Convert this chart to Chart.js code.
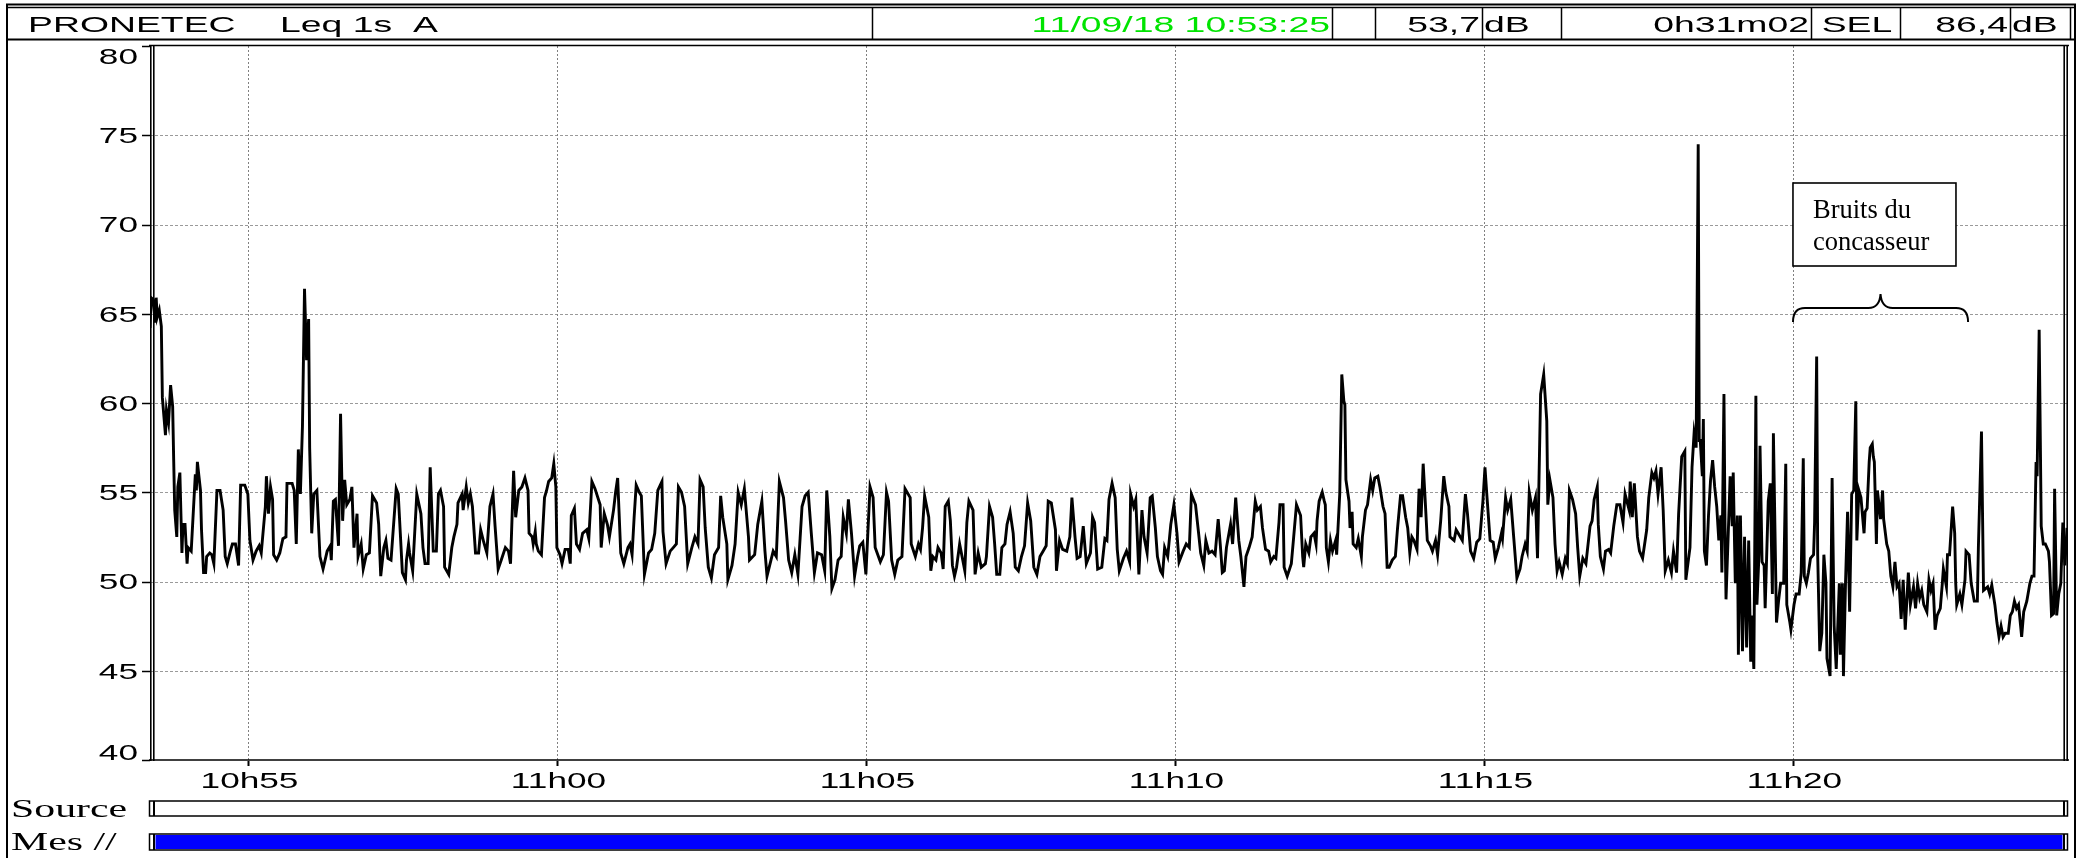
<!DOCTYPE html>
<html><head><meta charset="utf-8">
<script src="https://cdn.jsdelivr.net/npm/chart.js@4.4.1/dist/chart.umd.min.js"></script>
<style>html,body{margin:0;padding:0;background:#fff;overflow:hidden}canvas{display:block}</style>
</head><body>
<canvas id="c" width="2082" height="858" style="width:2082px;height:858px"></canvas>
<script>
// ---- data: [elapsed seconds since 10:53:25, Leq 1s dB(A)] ----
const readings1 = [[0,64.2],[1,65.9],[3,65.8],[5,64.5],[6,65.9],[7,64.8],[9,65.2],[11,64.3],[12,60.3],[15,58.2],[16,59.6],[18,58.9],[20,61.0],[22,59.8],[23,56.8],[24,54.0],[26,52.5],[27,55.3],[29,56.1],[31,51.6],[32,53.2],[34,53.2],[36,51.0],[37,51.9],[40,51.7],[44,56.0],[45,55.1],[46,56.7],[49,55.1],[50,52.9],[52,50.5],[54,50.5],[55,51.4],[58,51.6],[60,51.5],[62,51.0],[65,55.1],[68,55.1],[71,54.0],[73,51.4],[75,51.0],[78,51.7],[80,52.1],[83,52.1],[86,50.9],[88,55.4],[92,55.4],[95,54.9],[97,52.3],[100,51.2],[103,51.7],[106,52.0],[108,51.6],[112,54.2],[113,55.9],[115,53.8],[117,55.3],[119,54.6],[120,51.5],[123,51.2],[126,51.6],[129,52.4],[132,52.5],[133,55.5],[138,55.5],[140,55.1],[142,52.1],[144,57.4],[146,54.9],[148,58.7],[150,66.4],[152,62.4],[154,64.7],[155,57.5],[157,52.7],[159,54.9],[162,55.1],[165,51.4],[168,50.7],[172,51.7],[175,52.0],[176,51.2],[178,54.5],[180,54.6],[183,52.0],[185,59.4],[187,53.4],[189,55.7],[191,54.3],[194,54.6],[196,55.3],[198,51.9],[201,53.8],[202,51.4],[205,52.1],[207,50.7],[210,51.5],[213,51.6],[216,54.8],[220,54.4],[222,53.2],[224,50.3],[227,51.9],[229,52.3],[231,51.3],[234,51.2],[239,55.2],[241,54.9],[243,52.7],[245,50.5],[248,50.1],[249,51.2],[251,52.1],[252,51.6],[255,50.6],[259,54.9],[263,53.8],[265,51.9],[267,51.0],[270,51.0],[272,56.4],[275,51.7],[278,51.7],[280,54.9],[282,55.1],[285,54.2],[286,50.8],[290,50.4],[293,51.9],[295,52.5],[298,53.2],[299,54.4],[303,54.9],[304,54.0],[307,55.3],[309,54.4],[311,54.9],[313,54.2],[316,51.6],[319,51.6],[321,52.9],[324,52.2],[327,51.6],[330,54.2],[333,54.9],[335,53.1],[338,50.7],[341,51.2],[345,51.9],[348,51.7],[350,51.0],[353,56.2],[355,53.6],[358,55.1],[361,55.3],[364,55.8],[367,55.1],[368,52.7],[371,52.5],[372,52.1]];
const readings2 = [[374,52.8],[375,52.1],[377,51.7],[380,51.5],[383,54.7],[385,55.1],[387,55.6],[390,55.8],[392,56.6],[394,55.3],[395,51.9],[398,51.5],[400,51.0],[403,51.8],[406,51.8],[408,51.0],[409,53.7],[412,54.1],[414,52.1],[417,51.8],[420,52.7],[424,52.9],[426,52.4],[429,55.6],[432,55.2],[437,54.3],[438,51.9],[441,53.8],[444,53.2],[446,52.5],[450,54.0],[452,55.0],[454,55.8],[457,51.6],[460,51.0],[464,51.9],[466,52.1],[468,51.5],[470,53.6],[472,55.4],[475,55.0],[477,54.8],[480,50.4],[484,51.6],[487,51.8],[490,52.7],[493,55.1],[497,55.6],[498,52.8],[501,51.0],[505,51.7],[508,51.9],[511,52.1],[513,55.3],[516,55.0],[519,54.2],[522,51.0],[526,51.9],[529,52.5],[532,52.1],[534,55.7],[537,55.3],[539,53.0],[542,50.8],[545,50.2],[548,51.5],[552,51.9],[554,54.8],[556,53.6],[560,52.1],[561,50.1],[565,50.9],[568,52.1],[571,55.0],[574,54.3],[577,55.2],[581,52.5],[582,51.2],[587,51.5],[590,53.2],[594,54.5],[597,51.7],[599,50.3],[602,51.0],[605,51.7],[608,51.4],[611,55.6],[615,54.7],[617,53.4],[620,51.2],[623,50.5],[626,51.5],[629,50.4],[633,54.2],[636,54.8],[639,55.0],[642,52.7],[645,50.5],[648,51.6],[652,51.5],[655,50.6],[657,55.1],[660,52.5],[662,49.6],[665,50.1],[668,51.2],[671,51.4],[673,53.6],[676,52.7],[678,54.6],[681,52.7],[684,50.3],[687,51.4],[689,52.0],[692,52.2],[695,50.4],[699,55.3],[702,54.7],[704,51.9],[709,51.1],[712,51.5],[715,55.0],[717,54.5],[720,51.2],[723,50.4],[726,51.2],[730,51.4],[733,55.2],[738,54.7],[739,52.1],[743,51.4],[746,52.1]];
const readings3 = [[748,51.8],[750,53.0],[752,54.8],[756,53.6],[758,50.6],[760,51.4],[763,51.2],[765,51.9],[768,51.6],[770,50.7],[772,54.2],[775,54.5],[777,53.4],[779,50.9],[781,50.3],[783,50.8],[786,52.1],[789,51.2],[791,50.6],[793,53.3],[795,54.5],[799,54.0],[801,50.4],[804,51.6],[807,50.8],[811,51.0],[812,51.4],[815,54.2],[818,53.6],[820,52.1],[822,50.4],[825,50.4],[827,51.9],[830,52.1],[832,53.2],[835,53.9],[838,52.7],[840,50.8],[843,50.6],[846,51.4],[849,52.0],[852,54.4],[855,53.4],[858,50.8],[861,50.4],[864,51.4],[867,51.7],[870,52.0],[872,54.5],[875,54.4],[879,52.9],[880,50.6],[883,52.3],[886,51.8],[890,51.7],[893,52.5],[895,54.7],[898,52.5],[900,51.3],[903,51.4],[906,53.1],[909,51.0],[913,51.6],[915,53.6],[917,53.3],[920,50.7],[924,50.8],[927,52.4],[929,52.3],[931,54.6],[934,55.5],[937,54.7],[939,51.8],[941,50.6],[945,51.3],[948,51.7],[951,51.1],[952,54.9],[955,54.2],[957,54.6],[960,50.4],[963,54.0],[965,52.5],[968,51.6],[971,54.7],[973,54.8],[976,53.0],[978,51.4],[981,50.6],[983,50.4],[985,51.9],[988,51.4],[991,53.2],[994,54.3],[997,52.7],[999,51.1],[1003,51.7],[1006,52.1],[1009,51.9],[1011,54.9],[1015,54.3],[1018,52.7],[1020,51.6],[1023,50.9],[1025,52.3],[1028,51.6],[1031,51.7],[1034,51.5],[1037,53.5],[1039,52.1],[1041,50.5],[1043,50.6],[1045,51.9],[1049,53.2],[1051,52.1],[1054,54.7],[1057,52.3],[1059,51.4],[1062,49.7],[1064,51.4],[1067,51.9],[1070,52.5],[1073,54.5],[1075,54.0],[1078,54.2],[1080,53.0],[1083,51.8],[1086,51.7],[1088,51.1],[1091,51.4],[1093,51.3],[1096,53.3],[1097,54.3],[1100,54.3],[1101,50.8],[1104,50.3],[1108,51.0],[1110,52.3],[1113,54.3],[1117,53.7],[1119,51.4]];
const readings4 = [[1120,50.8],[1122,52.1],[1125,51.6],[1127,52.5],[1130,52.7],[1132,52.1],[1133,53.4],[1135,54.5],[1138,55.0],[1140,54.5],[1141,54.3],[1142,51.9],[1144,51.1],[1146,52.3],[1148,51.7],[1151,52.3],[1152,51.5],[1155,54.9],[1157,61.6],[1159,60.1],[1160,59.9],[1161,55.7],[1164,54.5],[1165,53.0],[1167,53.9],[1168,52.1],[1171,51.9],[1173,52.4],[1176,51.4],[1177,52.5],[1180,54.0],[1182,54.3],[1185,55.7],[1187,55.1],[1189,55.8],[1192,55.9],[1194,55.3],[1197,54.2],[1199,53.8],[1201,50.8],[1203,50.8],[1206,51.2],[1209,51.4],[1211,52.9],[1214,54.8],[1216,54.8],[1219,53.6],[1221,53.0],[1223,51.6],[1225,52.5],[1227,52.3],[1230,51.8],[1232,55.2],[1234,53.6],[1236,56.6],[1238,54.5],[1240,52.3],[1243,52.0],[1245,51.7],[1248,52.3],[1250,51.5],[1253,53.4],[1256,55.9],[1258,55.0],[1261,54.2],[1262,52.5],[1266,52.3],[1268,52.9],[1270,52.7],[1274,52.3],[1277,54.9],[1279,53.8],[1282,51.7],[1285,51.3],[1288,52.2],[1291,52.4],[1294,54.5],[1296,56.4],[1298,54.7],[1301,52.3],[1304,52.2],[1306,51.3],[1309,51.9],[1312,52.7],[1313,52.4],[1316,54.7],[1318,54.0],[1321,54.6],[1324,52.4],[1327,50.2],[1330,50.7],[1332,51.4],[1335,52.1],[1337,51.7],[1339,55.0],[1342,54.0],[1345,54.7],[1347,51.3],[1350,60.5],[1353,61.6],[1356,59.0],[1357,54.3],[1359,55.7],[1362,54.7],[1364,52.1],[1366,50.6],[1368,51.1],[1371,50.4],[1374,51.3],[1376,51.0],[1378,55.1],[1381,54.6],[1384,53.8],[1386,51.9],[1388,50.3],[1391,51.3],[1394,51.0],[1398,53.1],[1400,53.4],[1402,54.6],[1405,55.3],[1406,53.2],[1408,51.4],[1411,50.7],[1413,51.7],[1416,51.8],[1418,51.6],[1421,53.1],[1424,54.3],[1427,54.3],[1430,53.3],[1432,54.9],[1436,54.0],[1437,55.6],[1439,53.6],[1441,55.5],[1444,52.5],[1446,51.7],[1449,51.3],[1453,52.9],[1455,54.7],[1458,56.1],[1460,55.8],[1462,56.2],[1464,54.9],[1467,56.4],[1469,54.0],[1471,50.6],[1474,51.2],[1477,50.5],[1479,51.7],[1482,50.5],[1484,53.8],[1487,57.0],[1490,57.3],[1491,50.1]];
const readings5 = [[1495,51.9],[1497,56.4],[1499,58.3],[1501,57.5],[1503,74.5],[1504,57.9],[1505,57.9],[1507,55.9],[1508,59.1],[1509,51.7],[1511,50.9],[1513,53.7],[1515,55.7],[1517,56.8],[1519,55.3],[1521,54.2],[1523,52.3],[1525,53.7],[1526,50.5],[1528,60.5],[1529,53.3],[1530,49.0],[1533,54.1],[1534,55.9],[1536,53.1],[1537,56.1],[1539,49.9],[1541,53.7],[1542,45.9],[1544,53.7],[1546,46.1],[1548,52.5],[1550,46.3],[1552,52.3],[1554,45.5],[1555,48.1],[1557,45.1],[1559,60.4],[1560,48.7],[1562,51.5],[1563,57.6],[1565,51.1],[1567,50.9],[1568,48.5],[1571,54.5],[1573,55.5],[1575,49.3],[1576,58.3],[1579,47.7],[1581,48.9],[1583,49.9],[1586,49.9],[1588,56.6],[1589,48.7],[1592,47.7],[1593,47.3],[1596,48.7],[1598,49.3],[1601,49.3],[1603,50.5],[1605,56.9],[1606,50.3],[1608,49.9],[1610,50.5],[1612,51.3],[1615,51.5],[1616,53.3],[1618,62.6],[1619,51.5],[1621,46.1],[1623,47.1],[1625,51.5],[1627,49.9],[1628,45.7],[1631,44.7],[1633,55.8],[1635,47.5],[1637,45.1],[1640,49.9],[1641,45.9],[1643,49.9],[1644,44.7],[1646,49.9],[1648,53.9],[1650,48.3],[1652,54.9],[1654,55.1],[1656,60.1],[1657,52.3],[1659,55.1],[1661,54.7],[1664,52.7],[1665,53.9],[1667,54.1],[1669,56.7],[1670,57.5],[1672,57.7],[1673,57.0],[1674,56.7],[1676,52.1],[1677,55.1],[1680,53.5],[1682,55.1],[1683,53.5],[1686,52.1],[1688,51.7],[1690,50.3],[1692,49.7],[1694,51.1],[1696,49.7],[1698,49.9],[1700,47.9],[1702,50.1],[1704,47.3],[1707,50.5],[1709,48.7],[1712,49.7],[1714,48.5],[1716,49.9],[1718,49.1],[1720,49.5],[1722,48.7],[1725,48.3],[1727,50.1],[1729,49.5],[1731,49.9],[1733,47.3],[1735,48.1],[1738,48.5],[1740,49.9],[1741,50.7],[1744,49.7],[1745,51.5],[1747,51.5],[1750,54.2],[1752,52.7],[1753,49.9],[1754,48.7],[1757,49.3],[1759,48.7],[1762,50.1],[1763,51.7],[1766,51.5],[1768,49.9],[1771,48.9],[1774,48.9],[1775,51.9],[1778,58.4],[1780,49.5],[1784,49.7],[1786,49.3],[1788,49.8],[1791,48.7],[1793,47.7],[1795,46.9],[1797,47.5],[1799,46.9],[1801,47.1],[1804,47.1],[1806,48.1],[1808,48.3],[1810,48.9],[1812,48.5],[1814,48.7],[1817,46.9],[1819,48.3],[1822,48.9],[1825,49.9],[1827,50.3],[1829,50.3],[1831,56.7],[1832,55.9],[1834,64.1],[1836,53.1],[1838,52.1],[1840,52.1],[1843,51.7],[1844,51.1],[1846,48.1],[1848,48.2],[1849,55.2],[1851,48.1],[1853,49.3],[1855,49.9],[1857,53.3],[1859,50.9],[1861,53.0]];

const totalSeconds = 1862;                 // 0h31m02
const timeTickSeconds = [95, 395, 695, 995, 1295, 1595];
const timeTickLabels = ['10h55', '11h00', '11h05', '11h10', '11h15', '11h20'];
const levelTicks = [40, 45, 50, 55, 60, 65, 70, 75, 80];
const headerTitle = 'PRONETEC';
const headerMode = 'Leq 1s  A';
const headerStart = '11/09/18 10:53:25';
const headerLeq = '53,7';
const headerDuration = '0h31m02';
const headerSel = '86,4';
const stripLabels = ['Source', 'Mes //'];
const annotationLines = ['Bruits du', 'concasseur'];
const annotationSpanSeconds = [1595, 1765];

const allReadings = readings1.concat(readings2, readings3, readings4, readings5);
const points = allReadings.map(r => ({x: r[0], y: r[1]}));

const SX = 1.66;
function sText(ctx, text, x, y, font, sx, align, color) {
  ctx.save();
  ctx.font = font;
  ctx.fillStyle = color || '#000';
  ctx.textBaseline = 'alphabetic';
  ctx.textAlign = 'left';
  const w = ctx.measureText(text).width * sx;
  const x0 = align === 'right' ? x - w : (align === 'center' ? x - w / 2 : x);
  ctx.translate(x0, y);
  ctx.scale(sx, 1);
  ctx.fillText(text, 0, 0);
  ctx.restore();
}
function seg(ctx, x1, y1, x2, y2) { ctx.beginPath(); ctx.moveTo(x1, y1); ctx.lineTo(x2, y2); ctx.stroke(); }

const overlay = {
  id: 'overlay',
  beforeDraw(chart) {
    const ctx = chart.ctx, xs = chart.scales.x, ys = chart.scales.y, a = chart.chartArea;
    ctx.save();
    ctx.fillStyle = '#fff';
    ctx.fillRect(0, 0, chart.width, chart.height);
    ctx.strokeStyle = '#9a9a9a';
    ctx.lineWidth = 1;
    ctx.setLineDash([3, 2]);
    levelTicks.forEach(v => {
      if (v <= ys.min || v >= ys.max) return;
      const y = Math.round(ys.getPixelForValue(v)) + 0.5;
      seg(ctx, a.left, y, a.right, y);
    });
    ctx.strokeStyle = '#808080';
    ctx.setLineDash([2, 2]);
    timeTickSeconds.forEach(s => {
      const x = Math.round(xs.getPixelForValue(s)) + 0.5;
      seg(ctx, x, a.top, x, a.bottom);
    });
    ctx.restore();
  },
  afterDraw(chart) {
    const ctx = chart.ctx, xs = chart.scales.x, ys = chart.scales.y, a = chart.chartArea;
    const W = chart.width, H = chart.height;
    ctx.save();
    ctx.setLineDash([]);
    ctx.strokeStyle = '#000';

    // outer frame
    ctx.lineWidth = 2;
    seg(ctx, 7, 4, 7, H);
    seg(ctx, 2075, 4, 2075, H);
    seg(ctx, 6, 4.5, 2076, 4.5);
    ctx.lineWidth = 1.5;
    seg(ctx, 6, 7.5, 2076, 7.5);
    ctx.lineWidth = 2;
    seg(ctx, 6, 39.5, 2076, 39.5);
    // header boxes
    ctx.lineWidth = 1.5;
    [872, 1332, 1375, 1482, 1561, 1811, 1900, 2010, 2070].forEach(x => seg(ctx, x + 0.5, 7, x + 0.5, 39));

    const hf = '22.5px "Liberation Sans", Arial, sans-serif';
    sText(ctx, headerTitle, 28, 32, hf, SX, 'left');
    sText(ctx, headerMode, 280, 32, hf, SX, 'left');
    sText(ctx, headerStart, 1330, 32, hf, SX, 'right', '#00e400');
    sText(ctx, headerLeq, 1480, 32, hf, SX, 'right');
    sText(ctx, 'dB', 1484, 32, hf, SX, 'left');
    sText(ctx, headerDuration, 1809, 32, hf, SX, 'right');
    sText(ctx, 'SEL', 1857, 32, hf, SX, 'center');
    sText(ctx, headerSel, 2008, 32, hf, SX, 'right');
    sText(ctx, 'dB', 2012, 32, hf, SX, 'left');

    // plot frame
    ctx.lineWidth = 1.6;
    seg(ctx, a.left - 1, a.top - 0.5, a.right + 1, a.top - 0.5);
    seg(ctx, a.left - 1, a.bottom, a.right + 1, a.bottom);
    seg(ctx, a.left + 0.8, a.top - 1, a.left + 0.8, a.bottom + 1);
    seg(ctx, a.left + 3.8, a.top - 1, a.left + 3.8, a.bottom + 1);
    seg(ctx, a.right - 3.8, a.top - 1, a.right - 3.8, a.bottom + 1);
    seg(ctx, a.right - 0.8, a.top - 1, a.right - 0.8, a.bottom + 1);

    // y ticks + labels
    const lf = '22px "Liberation Sans", Arial, sans-serif';
    ctx.lineWidth = 1.5;
    levelTicks.forEach(v => {
      const y = ys.getPixelForValue(v);
      seg(ctx, a.left - 8, Math.round(y) + 0.5, a.left, Math.round(y) + 0.5);
      let base = y + 7.8;
      if (base - 15.8 < a.top + 2) base = a.top + 17.5;
      if (base > a.bottom) base = a.bottom;
      sText(ctx, String(v), a.left - 12, base, lf, 1.6, 'right');
    });
    // x ticks + labels
    ctx.lineWidth = 2;
    timeTickSeconds.forEach((s, i) => {
      const x = Math.round(xs.getPixelForValue(s)) + 0.5;
      seg(ctx, x, a.bottom + 1, x, a.bottom + 6);
      sText(ctx, timeTickLabels[i], x + 1, 788, lf, 1.6, 'center');
    });

    // Source / Mes strips
    const x1 = a.left - 1, x2 = a.right;
    ctx.fillStyle = '#fff';
    ctx.fillRect(x1, 801, x2 - x1, 15);
    ctx.lineWidth = 1.5;
    ctx.strokeRect(x1 + 0.5, 801, x2 - x1 - 1, 15);
    ctx.lineWidth = 2;
    seg(ctx, a.left + 4, 801, a.left + 4, 816);
    seg(ctx, a.right - 4, 801, a.right - 4, 816);

    ctx.fillStyle = '#fff';
    ctx.fillRect(x1, 834, x2 - x1, 16);
    ctx.fillStyle = '#0000ff';
    ctx.fillRect(a.left + 5.5, 835, a.right - a.left - 11, 14);
    ctx.lineWidth = 1.5;
    ctx.strokeRect(x1 + 0.5, 834, x2 - x1 - 1, 16);
    ctx.lineWidth = 2;
    seg(ctx, a.left + 4, 834, a.left + 4, 850);
    seg(ctx, a.right - 4, 834, a.right - 4, 850);

    const sf = '25.5px "Liberation Serif", "Times New Roman", serif';
    sText(ctx, stripLabels[0], 11, 817, sf, 1.64, 'left');
    sText(ctx, stripLabels[1], 11, 850, sf, 1.64, 'left');

    // annotation
    const bx = xs.getPixelForValue(annotationSpanSeconds[0]);
    const bxEnd = xs.getPixelForValue(annotationSpanSeconds[1]);
    const boxTop = 183, boxH = 83, boxW = 163;
    ctx.fillStyle = '#fff';
    ctx.fillRect(bx, boxTop, boxW, boxH);
    ctx.lineWidth = 1.6;
    ctx.strokeRect(bx, boxTop, boxW, boxH);
    ctx.fillStyle = '#000';
    ctx.font = '26.5px "Liberation Serif", "Times New Roman", serif';
    ctx.textAlign = 'left';
    ctx.textBaseline = 'alphabetic';
    ctx.fillText(annotationLines[0], bx + 20, 218);
    ctx.fillText(annotationLines[1], bx + 20, 250);
    // brace
    const mid = (bx + bxEnd) / 2;
    ctx.lineWidth = 2;
    ctx.beginPath();
    ctx.moveTo(bx, 322);
    ctx.quadraticCurveTo(bx, 308, bx + 12, 308);
    ctx.lineTo(mid - 12, 308);
    ctx.quadraticCurveTo(mid - 1, 308, mid, 294);
    ctx.quadraticCurveTo(mid + 1, 308, mid + 12, 308);
    ctx.lineTo(bxEnd - 12, 308);
    ctx.quadraticCurveTo(bxEnd, 308, bxEnd, 322);
    ctx.stroke();
    ctx.restore();
  }
};

new Chart(document.getElementById('c'), {
  type: 'line',
  data: {
    datasets: [{
      data: points,
      borderColor: '#000',
      borderWidth: 2.9,
      pointRadius: 0,
      tension: 0,
      fill: false
    }]
  },
  options: {
    responsive: false,
    animation: false,
    devicePixelRatio: 1,
    layout: { autoPadding: false, padding: { left: 150, right: 14, top: 46, bottom: 98 } },
    plugins: { legend: { display: false }, tooltip: { enabled: false } },
    scales: {
      x: { type: 'linear', min: 0, max: totalSeconds, display: false },
      y: { type: 'linear', min: 40, max: 80, display: false }
    }
  },
  plugins: [overlay]
});
</script>
</body></html>
